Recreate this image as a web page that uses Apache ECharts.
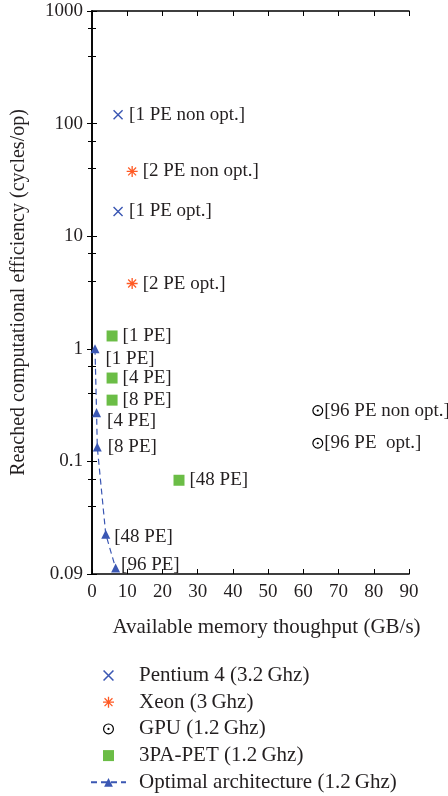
<!DOCTYPE html>
<html>
<head>
<meta charset="utf-8">
<script src="https://cdn.jsdelivr.net/npm/echarts@6/dist/echarts.min.js"></script>
<style>
  html, body { margin: 0; padding: 0; background: #fff; }
  #chart { width: 448px; height: 796px; }
</style>
</head>
<body>
<div id="chart"></div>
<script>
// Memory throughput (GB/s) vs. reached efficiency (cycles/op)
const pentiumX = [7.4, 7.4];
const pentiumY = [120, 16.6];
const pentiumLabels = ['[1 PE non opt.]', '[1 PE opt.]'];

const xeonX = [11.4, 11.4];
const xeonY = [37.6, 3.8];
const xeonLabels = ['[2 PE non opt.]', '[2 PE opt.]'];

const gpuX = [64.1, 64.1];
const gpuY = [0.283, 0.145];
const gpuLabels = ['[96 PE non opt.]', '[96 PE  opt.]'];

const petX = [5.7, 5.7, 5.7, 24.7];
const petY = [1.3, 0.55, 0.35, 0.068];
const petLabels = ['[1 PE]', '[4 PE]', '[8 PE]', '[48 PE]'];

const optX = [0.85, 1.3, 1.5, 3.9, 6.7];
const optY = [1.0, 0.27, 0.134, 0.0226, 0.0113];
const optLabels = ['[1 PE]', '[4 PE]', '[8 PE]', '[48 PE]', '[96 PE]'];

const seriesNames = ['Pentium 4 (3.2\u2009Ghz)', 'Xeon (3\u2009Ghz)', 'GPU (1.2\u2009Ghz)', '3PA-PET (1.2\u2009Ghz)', 'Optimal architecture (1.2\u2009Ghz)'];

const xTicks = [0, 10, 20, 30, 40, 50, 60, 70, 80, 90];
// decade -> printed tick text
const yTickValues = [0.01, 0.1, 1, 10, 100, 1000];
const yTickLabels = ['0.09', '0.1', '1', '10', '100', '1000'];

const FONT = '"Liberation Serif", "DejaVu Serif", serif';
const TXT = '#231f20';
const BLUE = '#3b57b3';
const ORANGE = '#ff5a24';
const GREEN = '#6bbd46';

// marker shapes
const crossPath = 'path://M0,1 L1,0 L10,9 L9,10 Z M9,0 L10,1 L1,10 L0,9 Z';
const starPath = 'path://M0,4.4 L10,4.4 L10,5.6 L0,5.6 Z M5.6,0 L5.6,10 L4.4,10 L4.4,0 Z ' +
  'M1.0,1.8 L1.8,1.0 L9.0,8.2 L8.2,9.0 Z M8.2,1.0 L9.0,1.8 L1.8,9.0 L1.0,8.2 Z';
const ringDotPath = 'path://M5,0 A5,5 0 1,1 5,10 A5,5 0 1,1 5,0 Z M5,1.1 A3.9,3.9 0 1,0 5,8.9 A3.9,3.9 0 1,0 5,1.1 Z ' +
  'M5,4 A1,1 0 1,1 5,6 A1,1 0 1,1 5,4 Z';
const squarePath = 'path://M0,0 L10,0 L10,10 L0,10 Z';

// per-point label nudges for the optimal-architecture annotations
const optLabelOffsets = [[1, 10], [1, 8], [1, 0], [-1, 3], [-4, -3]];

function pts(xs, ys, labels, offsets) {
  return xs.map((x, i) => {
    const p = { value: [x, ys[i]], name: labels[i] };
    if (offsets) p.label = { offset: offsets[i] };
    return p;
  });
}

function labelStyle(distance) {
  return {
    show: true,
    position: 'right',
    distance: distance,
    formatter: p => p.name,
    fontFamily: FONT,
    fontSize: 19,
    color: TXT
  };
}

const chart = echarts.init(document.getElementById('chart'), null, { renderer: 'canvas' });

const axisLine = { show: true, lineStyle: { color: '#000', width: 1.6 } };
const axisTick = { show: true, inside: true, length: 5, lineStyle: { color: '#000', width: 1 } };
const minorTick = { show: true, splitNumber: 3, length: 4, lineStyle: { color: '#000', width: 1 } };

chart.setOption({
  animation: false,
  backgroundColor: '#fff',
  grid: { left: 92, right: 39, top: 11, bottom: 222, containLabel: false },
  xAxis: [{
    type: 'value', min: 0, max: 90, interval: 10,
    name: 'Available memory thoughput (GB/s)',
    nameLocation: 'middle', nameGap: 43,
    nameTextStyle: { fontFamily: FONT, fontSize: 21, color: TXT, padding: [0, 0, 0, 32] },
    axisLine, axisTick,
    axisLabel: { fontFamily: FONT, fontSize: 19, color: TXT, margin: 9,
      formatter: v => xTicks.includes(v) ? String(v) : '' },
    splitLine: { show: false }
  }, {
    type: 'value', min: 0, max: 90, interval: 10, position: 'top',
    axisLine, axisTick, axisLabel: { show: false }, splitLine: { show: false }
  }],
  yAxis: [{
    type: 'log', logBase: 10, min: 0.01, max: 1000,
    name: 'Reached computational efficiency (cycles/op)',
    nameLocation: 'middle', nameGap: 63,
    nameTextStyle: { fontFamily: FONT, fontSize: 20, color: TXT },
    axisLine, axisTick, minorTick,
    axisLabel: { fontFamily: FONT, fontSize: 19, color: TXT, margin: 9,
      formatter: v => {
        const i = yTickValues.findIndex(t => Math.abs(Math.log10(t) - Math.log10(v)) < 1e-6);
        return i >= 0 ? yTickLabels[i] : '';
      } },
    splitLine: { show: false }
  }, {
    type: 'log', logBase: 10, min: 0.01, max: 1000, position: 'right',
    axisLine, axisTick, minorTick,
    axisLabel: { show: false }, splitLine: { show: false }
  }],
  legend: {
    orient: 'vertical', left: 90, top: 665, height: 150, padding: 0,
    itemWidth: 35, itemHeight: 11, itemGap: 5.7,
    textStyle: { fontFamily: FONT, fontSize: 21, lineHeight: 21, color: TXT, padding: [0, 0, 0, 8] },
    data: seriesNames
  },
  series: [{
    name: seriesNames[0], type: 'scatter', symbol: crossPath, symbolSize: 10,
    itemStyle: { color: BLUE, opacity: 1 },
    label: labelStyle(6),
    data: pts(pentiumX, pentiumY, pentiumLabels)
  }, {
    name: seriesNames[1], type: 'scatter', symbol: starPath, symbolSize: 11,
    itemStyle: { color: ORANGE, opacity: 1 },
    label: labelStyle(5),
    data: pts(xeonX, xeonY, xeonLabels)
  }, {
    name: seriesNames[2], type: 'scatter', symbol: ringDotPath, symbolSize: 11,
    itemStyle: { color: '#000', opacity: 1 },
    label: labelStyle(1),
    data: pts(gpuX, gpuY, gpuLabels)
  }, {
    name: seriesNames[3], type: 'scatter', symbol: squarePath, symbolSize: 11,
    itemStyle: { color: GREEN, opacity: 1 },
    label: labelStyle(5),
    data: pts(petX, petY, petLabels)
  }, {
    name: seriesNames[4], type: 'line', symbol: 'triangle', symbolSize: 9,
    showSymbol: true, smooth: false,
    itemStyle: { color: BLUE },
    lineStyle: { color: BLUE, width: 1.2, type: [6, 4] },
    label: labelStyle(5),
    data: pts(optX, optY, optLabels, optLabelOffsets)
  }]
});
</script>
</body>
</html>
